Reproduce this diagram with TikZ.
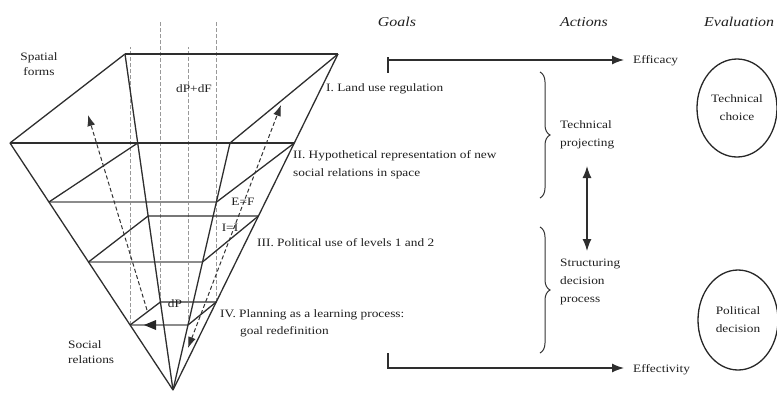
\documentclass[tikz,border=0pt]{standalone}
\usepackage{fontspec}
\setmainfont[FakeStretch=1.18]{Liberation Serif}
\usetikzlibrary{arrows.meta,decorations.pathreplacing,calc,shapes.geometric}
\begin{document}
\begin{tikzpicture}[x=1pt,y=-1pt,
  edge/.style={draw=black!82,line width=1.3pt},
  front/.style={draw=black!45,line width=1.3pt},
  guide/.style={draw=black!40,line width=0.8pt,dash pattern=on 4pt off 2pt},
  flow/.style={draw=black!80,line width=1pt,dash pattern=on 4pt off 2.5pt},
  lbl/.style={font=\fontsize{11.3}{18}\selectfont,text=black!88,inner sep=0pt},
  small/.style={font=\fontsize{11.3}{15}\selectfont,text=black!88,inner sep=0pt},
  head/.style={font=\fontsize{13.5}{14}\selectfont\itshape,text=black!88,inner sep=0pt},
  tip/.style={-{Latex[length=11pt,width=8pt]}},
  bothtips/.style={{Latex[length=11pt,width=8pt]}-{Latex[length=11pt,width=8pt]}},
  bigtip/.style={-{Latex[length=12pt,width=9pt]}},
  bigboth/.style={{Latex[length=12pt,width=9pt]}-{Latex[length=12pt,width=9pt]}},
  brace/.style={draw=black!80,line width=1pt,decorate,decoration={brace,amplitude=10pt}},
  evalring/.style={draw=black!85,line width=1.3pt,ellipse,inner sep=0pt},
]
\useasboundingbox (0,0) rectangle (777,392);

% apex and the corners of the four planning levels
\coordinate (A)  at (173,390);
\coordinate (L1) at (10,143);   \coordinate (B1) at (125,54);
\coordinate (R1) at (338,54);   \coordinate (F1) at (230,143);
\coordinate (L2) at (49,202);   \coordinate (B2) at (137.7,143);
\coordinate (R2) at (294.3,143);\coordinate (F2) at (216.6,202);
\coordinate (L3) at (88.5,262); \coordinate (B3) at (148.1,216);
\coordinate (R3) at (258.4,216);\coordinate (F3) at (202.5,262);
\coordinate (L4) at (130.1,325);\coordinate (B4) at (160.4,302);
\coordinate (R4) at (216.2,302);\coordinate (F4) at (188,325);

% vertical projection guides
\coordinate (g1) at (130.1,47);  \coordinate (g2) at (160.4,22);
\coordinate (g3) at (188,47);    \coordinate (g4) at (216.2,22);
\draw[guide] (L4) -- (g1);
\draw[guide] (B4) -- (g2);
\draw[guide] (F4) -- (g3);
\draw[guide] (R4) -- (g4);

% front (near) edges of the lower levels
\draw[front] (L2) -- (F2);
\draw[front] (L3) -- (F3);
\draw[front] (L4) -- (F4);

% level I
\draw[edge,line width=2pt] (B1) -- (R1);
\draw[edge] (L1) -- (B1);
\draw[edge] (F1) -- (R1);
\draw[edge] (L1) -- (R2);
\draw[edge,line width=2.8pt] (B2) -- (F1);
% level II
\draw[edge] (L2) -- (B2);
\draw[edge] (F2) -- (R2);
% level III
\draw[edge] (L3) -- (B3) -- (R3);
\draw[edge] (F3) -- (R3);
% level IV
\draw[edge] (L4) -- (B4) -- (R4);
\draw[edge] (F4) -- (R4);
% edges of the inverted pyramid
\draw[edge] (L1) -- (A);
\draw[edge] (B1) -- (A);
\draw[edge] (R1) -- (A);
\draw[edge] (F1) -- (A);

% feedback loops
\coordinate (la) at (147,310);  \coordinate (lb) at (88,115);
\coordinate (ra) at (188,348);  \coordinate (rb) at (281,105);
\draw[flow,tip] (la) -- (lb);
\draw[flow,bothtips] (ra) -- (rb);
\fill[black!85] (144,325) -- (156,320) -- (156,330) -- cycle;

% pyramid labels
\node[small,align=center] (sp) at (39,64) {Spatial\\forms};
\node[small,align=left,anchor=west] (sr) at (68,352.5) {Social\\relations};
\node[lbl] (dpf) at (194,89) {dP+dF};
\node[lbl] (ef) at (243,202) {E=F};
\node[lbl] (ii) at (230,228) {I=I};
\node[lbl] (dp) at (175,304) {dP};

\node[lbl,anchor=west] (l1) at (326,89) {I. Land use regulation};
\node[lbl,anchor=north west,align=left] (l2) at (293,150)
  {II. Hypothetical representation of new\\social relations in space};
\node[lbl,anchor=west] (l3) at (257,243) {III. Political use of levels 1 and 2};
\node[lbl,anchor=north west,align=left,font=\fontsize{11.3}{17}\selectfont] (l4) at (220,309)
  {IV. Planning as a learning process:\\\hspace*{20pt}goal redefinition};

% column heads
\node[head] (hg) at (397,22) {Goals};
\node[head] (ha) at (584,22) {Actions};
\node[head,anchor=west] (he) at (704,22) {Evaluation};

% goal arrows
\coordinate (gt) at (388,60);
\coordinate (gb) at (388,368);
\node[lbl,anchor=west] (eff) at (633,61) {Efficacy};
\node[lbl,anchor=west] (efv) at (633,370) {Effectivity};
\draw[edge] (388,57) -- (388,73);
\draw[edge] (388,353) -- (388,369);
\draw[edge,bigtip,shorten >=9pt] (gt) -- (eff.west |- gt);
\draw[edge,bigtip,shorten >=9pt] (gb) -- (efv.west |- gb);

% actions
\draw[brace] (540,72) -- (540,198);
\draw[brace] (540,227) -- (540,353);
\node[lbl,anchor=north west,align=left] (tp) at (560,120) {Technical\\projecting};
\node[lbl,anchor=north west,align=left] (sd) at (560,259)
  {Structuring\\decision\\process};
\coordinate (da) at (587,166);
\coordinate (db) at (587,251);
\draw[edge,bigboth] (da) -- (db);

% evaluation
\node[evalring,minimum width=80pt,minimum height=98pt] (tc) at (737,108) {};
\node[lbl,align=center] (tct) at (tc.center) {Technical\\choice};
\node[evalring,minimum width=80pt,minimum height=100pt] (pd) at (738,320) {};
\node[lbl,align=center] (pdt) at (pd.center) {Political\\decision};
\end{tikzpicture}
\end{document}
